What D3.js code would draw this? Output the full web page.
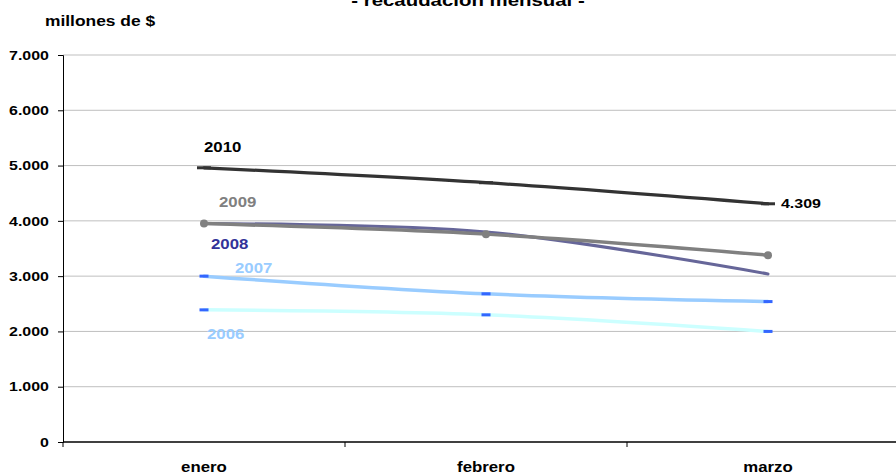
<!DOCTYPE html>
<html>
<head>
<meta charset="utf-8">
<script src="https://cdn.jsdelivr.net/npm/d3@7/dist/d3.min.js"></script>
<style>
  html, body { margin: 0; padding: 0; background: #fff; }
  svg { display: block; font-family: "Liberation Sans", Arial, sans-serif; }
</style>
</head>
<body>
<svg id="chart" width="896" height="475"></svg>
<script>
// Monthly tax collection, millions of $
const months = ["enero", "febrero", "marzo"];
const years = ["2006", "2007", "2008", "2009", "2010"];
const v2006 = [2390, 2300, 2000];
const v2007 = [3000, 2680, 2540];
const v2008 = [3950, 3800, 3040];
const v2009 = [3950, 3760, 3380];
const v2010 = [4960, 4690, 4309];
const yTicks = [0, 1000, 2000, 3000, 4000, 5000, 6000, 7000];

const seriesValues = { "2006": v2006, "2007": v2007, "2008": v2008, "2009": v2009, "2010": v2010 };

// Per-series styling: line colour, label colour, marker type, label offset from the first point
const style = {
  "2006": { line: "#CCFFFF", label: "#99CCFF", marker: "dash", mcolor: "#3366FF", width: 3.5, dx: 3, dy: 24 },
  "2007": { line: "#99CCFF", label: "#99CCFF", marker: "dash", mcolor: "#3366FF", width: 3.5, dx: 31, dy: -8 },
  "2008": { line: "#666699", label: "#333399", marker: "none", mcolor: "#666699", width: 3, dx: 7, dy: 20 },
  "2009": { line: "#808080", label: "#808080", marker: "dot", mcolor: "#808080", width: 3.5, dx: 15, dy: -22 },
  "2010": { line: "#333333", label: "#000000", marker: "bar", mcolor: "#333333", width: 3.2, dx: 0, dy: -21 }
};

// Text is drawn slightly widened horizontally
const SX = 1.2;
function widen(sel) {
  sel.attr("transform", function () {
    const tx = +this.getAttribute("x") || 0, ty = +this.getAttribute("y") || 0;
    return `translate(${tx},${ty}) scale(${SX},1) translate(${-tx},${-ty})`;
  });
}

const svg = d3.select("#chart");
const mLeft = 63, mTop = 55, mBottom = 442;
const band = 282;

const x = d3.scaleBand().domain(months).range([mLeft, mLeft + band * months.length]);
const y = d3.scaleLinear().domain([0, 7000]).range([mBottom, mTop]);
const xc = m => x(m) + x.bandwidth() / 2;

const loc = d3.formatLocale({ decimal: ",", thousands: ".", grouping: [3], currency: ["$", ""] });
const fmt = loc.format(",d");

// Horizontal gridlines
svg.append("g")
  .selectAll("line")
  .data(yTicks.filter(t => t > 0))
  .join("line")
  .attr("x1", mLeft).attr("x2", 896)
  .attr("y1", d => y(d)).attr("y2", d => y(d))
  .attr("stroke", "#BFBFBF").attr("stroke-width", 1);

// Y axis
const yAxis = svg.append("g")
  .attr("transform", `translate(${mLeft},0)`)
  .call(d3.axisLeft(y).tickValues(yTicks).tickFormat(fmt).tickSize(5).tickPadding(6.7));
yAxis.select(".domain").attr("stroke", "#000");
yAxis.selectAll(".tick line").attr("stroke", "#000");
yAxis.selectAll(".tick text")
  .attr("fill", "#000").style("font-size", "13.3px").style("font-weight", "bold")
  .style("font-family", "'Liberation Sans', Arial, sans-serif")
  .attr("transform", `scale(${SX},1)`);

// X axis baseline and category separators
const xAxis = svg.append("g").attr("transform", `translate(0,${mBottom})`);
xAxis.append("line").attr("x1", mLeft).attr("x2", 896).attr("y1", 0).attr("y2", 0)
  .attr("stroke", "#000").attr("stroke-width", 1.5);
xAxis.selectAll("line.sep")
  .data(months.map(m => x(m)).concat([x.range()[1]]))
  .join("line").attr("class", "sep")
  .attr("x1", d => d).attr("x2", d => d).attr("y1", 0).attr("y2", 5)
  .attr("stroke", "#000");
xAxis.selectAll("text")
  .data(months)
  .join("text")
  .attr("x", d => xc(d)).attr("y", 30)
  .attr("text-anchor", "middle")
  .style("font-size", "14px").style("font-weight", "bold")
  .text(d => d)
  .call(widen);

// Series lines
const line = d3.line()
  .x((d, i) => xc(months[i]))
  .y(d => y(d))
  .curve(d3.curveCatmullRom.alpha(0.5));

const order = ["2006", "2007", "2010", "2008", "2009"];
order.forEach(yr => {
  const s = style[yr];
  const vals = seriesValues[yr];
  const g = svg.append("g");
  g.append("path")
    .datum(vals)
    .attr("d", line)
    .attr("fill", "none")
    .attr("stroke", s.line)
    .attr("stroke-width", s.width)
    .attr("stroke-linecap", "round");
  if (s.marker === "dot") {
    g.selectAll("circle").data(vals).join("circle")
      .attr("cx", (d, i) => xc(months[i])).attr("cy", d => y(d))
      .attr("r", 4).attr("fill", s.mcolor);
  } else if (s.marker === "dash") {
    g.selectAll("rect").data(vals).join("rect")
      .attr("x", (d, i) => xc(months[i]) - 4.5).attr("y", d => y(d) - 1.5)
      .attr("width", 9).attr("height", 3).attr("fill", s.mcolor);
  } else if (s.marker === "bar") {
    g.selectAll("rect").data(vals).join("rect")
      .attr("x", (d, i) => xc(months[i]) - 7).attr("y", d => y(d) - 1.5)
      .attr("width", 14).attr("height", 3).attr("fill", s.mcolor);
  }
  // Series name next to the first point
  g.append("text")
    .attr("x", xc(months[0]) + s.dx)
    .attr("y", y(vals[0]) + s.dy)
    .attr("dy", "0.35em")
    .attr("fill", s.label)
    .style("font-size", "14px").style("font-weight", "bold")
    .text(yr)
    .call(widen);
});

// Value label at the last point of 2010
const last = v2010[v2010.length - 1];
svg.append("text")
  .attr("x", xc(months[months.length - 1]) + 13)
  .attr("y", y(last))
  .attr("dy", "0.35em")
  .style("font-size", "13.3px").style("font-weight", "bold")
  .text(fmt(last))
  .call(widen);

// Axis title
svg.append("text")
  .attr("x", 45).attr("y", 26)
  .style("font-size", "14.5px").style("font-weight", "bold")
  .text("millones de $")
  .call(widen);

// Chart title (partly above the visible area)
svg.append("text")
  .attr("x", 468).attr("y", 6)
  .attr("text-anchor", "middle")
  .style("font-size", "17px").style("font-weight", "bold")
  .text("- recaudación mensual -")
  .call(widen);
</script>
</body>
</html>
